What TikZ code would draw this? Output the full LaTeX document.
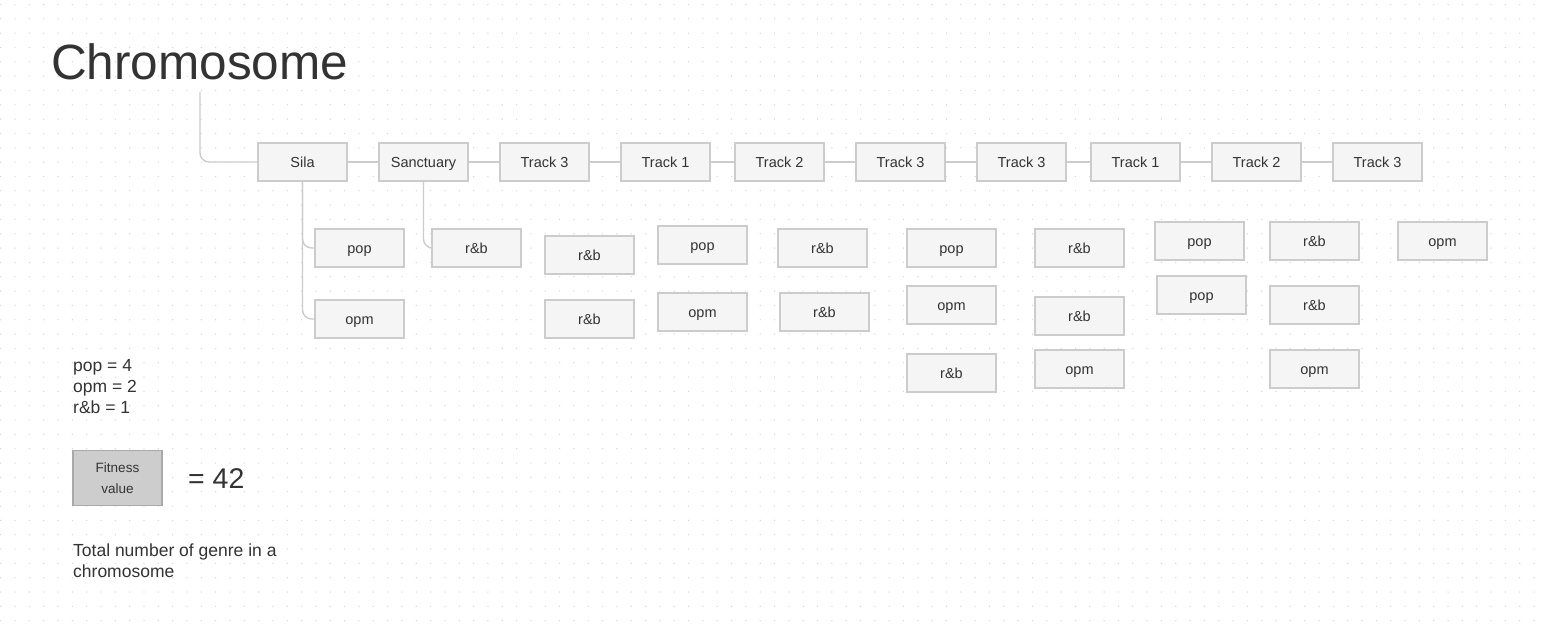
\documentclass[tikz,border=0pt]{standalone}
\usepackage{fontspec}
\setmainfont{Liberation Sans}
\definecolor{ink}{HTML}{333333}
\definecolor{boxfill}{HTML}{F5F5F5}
\definecolor{boxline}{HTML}{CCCCCC}
\definecolor{wirec}{HTML}{CCCCCC}
\definecolor{dotc}{HTML}{D6D6D6}
\definecolor{fitfill}{HTML}{CDCDCD}
\definecolor{fitline}{HTML}{A9A9A9}
\begin{document}
\begin{tikzpicture}[x=1pt,y=-1pt,
  gene/.style={draw=boxline, line width=1.6pt, fill=boxfill,
    minimum width=89pt, minimum height=38pt, inner sep=0pt,
    text height=10.5pt, text depth=0pt,
    font=\fontsize{14.5}{16}\selectfont, text=ink},
  wire/.style={draw=wirec, line width=1.4pt, rounded corners=9pt},
  plain/.style={inner sep=0pt, anchor=base west, text=ink},
  body/.style={plain, font=\fontsize{17.5}{21}\selectfont}]
% canvas and dot grid
\fill[white] (0,0) rectangle (1546,626);
\useasboundingbox (0,0) rectangle (1546,626);
\foreach \i in {0,...,107}
  \foreach \j in {0,...,43}
    \fill[dotc] (0.7+14.33*\i, 4.5+14.33*\j) circle (0.7);

% title
\node[plain, font=\fontsize{49.5}{55}\selectfont] (title) at (51,79) {Chromosome};
\coordinate (stem) at (200,92);

% chromosome: genes in a row
\node[gene] (g1) at (302.5,162) {Sila};
\node[gene] (g2) at (423.5,162) {Sanctuary};
\node[gene] (g3) at (544.5,162) {Track 3};
\node[gene] (g4) at (665.5,162) {Track 1};
\node[gene] (g5) at (779.5,162) {Track 2};
\node[gene] (g6) at (900.5,162) {Track 3};
\node[gene] (g7) at (1021.5,162) {Track 3};
\node[gene] (g8) at (1135.5,162) {Track 1};
\node[gene] (g9) at (1256.5,162) {Track 2};
\node[gene] (g10) at (1377.5,162) {Track 3};

\draw[wire] (stem) |- (g1.west);
\foreach \a/\b in {g1/g2,g2/g3,g3/g4,g4/g5,g5/g6,g6/g7,g7/g8,g8/g9,g9/g10}
  \draw[wire] (\a) -- (\b);

% genres of each track
\node[gene] (s1a) at (359.5,248) {pop};
\node[gene] (s1b) at (359.5,319) {opm};
\node[gene] (s2a) at (476.5,248) {r\&b};
\node[gene] (s3a) at (589.5,255) {r\&b};
\node[gene] (s3b) at (589.5,319) {r\&b};
\node[gene] (s4a) at (702.5,245) {pop};
\node[gene] (s4b) at (702.5,312) {opm};
\node[gene] (s5a) at (822.5,248) {r\&b};
\node[gene] (s5b) at (824.5,312) {r\&b};
\node[gene] (s6a) at (951.5,248) {pop};
\node[gene] (s6b) at (951.5,305) {opm};
\node[gene] (s6c) at (951.5,373) {r\&b};
\node[gene] (s7a) at (1079.5,248) {r\&b};
\node[gene] (s7b) at (1079.5,316) {r\&b};
\node[gene] (s7c) at (1079.5,369) {opm};
\node[gene] (s8a) at (1199.5,241) {pop};
\node[gene] (s8b) at (1201.5,295) {pop};
\node[gene] (s9a) at (1314.5,241) {r\&b};
\node[gene] (s9b) at (1314.5,305) {r\&b};
\node[gene] (s9c) at (1314.5,369) {opm};
\node[gene] (s10a) at (1442.5,241) {opm};

\draw[wire] (g1.south) |- (s1a.west);
\draw[wire] (g1.south) |- (s1b.west);
\draw[wire] (g2.south) |- (s2a.west);

% genre weights
\node[body] (w1) at (73,371) {pop = 4};
\node[body] (w2) at (73,392) {opm = 2};
\node[body] (w3) at (73,413) {r\&b = 1};

% fitness
\node[draw=fitline, line width=1.6pt, fill=fitfill, minimum width=89pt,
  minimum height=55pt, inner sep=0pt, align=center, text=ink,
  font=\fontsize{13.5}{21}\selectfont] (fit) at (117.5,478) {Fitness\\value};
\node[plain, font=\fontsize{28.5}{32}\selectfont] (score) at (188,488) {= 42};

\node[body] (n1) at (73,556.5) {Total number of genre in a};
\node[body] (n2) at (73,577.5) {chromosome};
\end{tikzpicture}
\end{document}
